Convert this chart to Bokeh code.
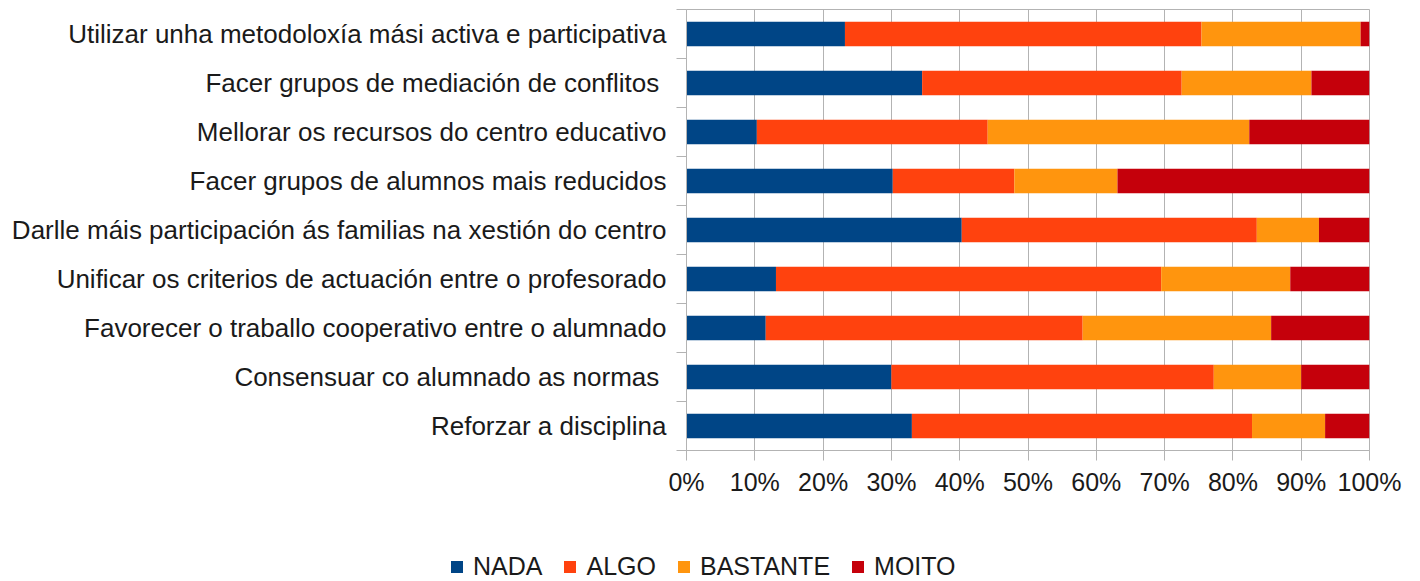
from bokeh.plotting import figure
from bokeh.layouts import column
from bokeh.models import Range1d, FixedTicker, ColumnDataSource, Legend, LegendItem
from bokeh.embed import file_html
from bokeh.resources import INLINE

categories = [
    "Utilizar unha metodoloxía mási activa e participativa",
    "Facer grupos de mediación de conflitos ",
    "Mellorar os recursos do centro educativo",
    "Facer grupos de alumnos mais reducidos",
    "Darlle máis participación ás familias na xestión do centro",
    "Unificar os criterios de actuación entre o profesorado",
    "Favorecer o traballo cooperativo entre o alumnado",
    "Consensuar co alumnado as normas ",
    "Reforzar a disciplina",
]
series_names = ["NADA", "ALGO", "BASTANTE", "MOITO"]
nada = [23.2, 34.5, 10.3, 30.2, 40.3, 13.1, 11.6, 30.0, 33.0]
algo = [52.2, 38.0, 33.8, 17.8, 43.2, 56.4, 46.4, 47.2, 49.8]
bastante = [23.3, 19.0, 38.3, 15.1, 9.1, 18.9, 27.6, 12.8, 10.7]
moito = [1.3, 8.5, 17.6, 36.9, 7.4, 11.6, 14.4, 10.0, 6.5]
x_ticks = [0, 10, 20, 30, 40, 50, 60, 70, 80, 90, 100]
x_tick_labels = ["0%", "10%", "20%", "30%", "40%", "50%", "60%", "70%", "80%", "90%", "100%"]

colors = ["#004586", "#ff420e", "#ff950e", "#c5000b"]
FONT = "Liberation Sans"
TEXT = "#1a1a1a"
GRID = "#b3b3b3"

n = len(categories)
ypos = [n - 0.5 - i for i in range(n)]

src = ColumnDataSource(dict(y=ypos, NADA=nada, ALGO=algo, BASTANTE=bastante, MOITO=moito))

p = figure(width=1420, height=500, output_backend="svg", toolbar_location=None,
           x_range=Range1d(0, 100), y_range=Range1d(0, n),
           min_border_left=686, min_border_right=51, min_border_top=9, min_border_bottom=50)
p.frame_align = False

rs = p.hbar_stack(series_names, y="y", height=0.5, color=colors, source=src, line_color=None)

p.outline_line_color = GRID
p.xgrid.ticker = FixedTicker(ticks=x_ticks)
p.xgrid.grid_line_color = GRID
p.ygrid.grid_line_color = None

xa = p.xaxis[0]
xa.ticker = FixedTicker(ticks=x_ticks)
xa.major_label_overrides = {t: l for t, l in zip(x_ticks, x_tick_labels)}
xa.axis_line_color = GRID
xa.major_tick_line_color = GRID
xa.major_tick_out = 10
xa.major_tick_in = 0
xa.minor_tick_line_color = None
xa.major_label_text_font = FONT
xa.major_label_text_font_size = "25px"
xa.major_label_text_color = TEXT
xa.major_label_standoff = 7

ya = p.yaxis[0]
ya.ticker = FixedTicker(ticks=ypos, minor_ticks=list(range(n + 1)))
ya.major_label_overrides = {y: c for y, c in zip(ypos, categories)}
ya.axis_line_color = GRID
ya.major_tick_line_color = None
ya.major_tick_out = 0
ya.major_tick_in = 0
ya.minor_tick_line_color = GRID
ya.minor_tick_out = 10
ya.minor_tick_in = 0
ya.major_label_text_font = FONT
ya.major_label_text_font_size = "26px"
ya.major_label_text_color = TEXT
ya.major_label_standoff = 10

# legend strip below the chart (swatch renderers carry no visible data)
lg = figure(width=1420, height=81, output_backend="svg", toolbar_location=None,
            x_range=Range1d(0, 1), y_range=Range1d(0, 1),
            x_axis_type=None, y_axis_type=None,
            min_border_left=0, min_border_right=0, min_border_top=0, min_border_bottom=0)
lg.frame_align = False
lg.outline_line_color = None
lg.grid.visible = False
nan = float("nan")
swatches = [lg.quad(left=[nan], right=[nan], top=[nan], bottom=[nan], fill_color=c, line_color=None)
            for c in colors]

legend = Legend(items=[LegendItem(label=name, renderers=[r]) for name, r in zip(series_names, swatches)],
                orientation="horizontal", location=(449, 0),
                label_text_font=FONT, label_text_font_size="25px", label_text_color=TEXT,
                glyph_width=15, glyph_height=15, label_standoff=9, spacing=20,
                border_line_color=None, background_fill_alpha=0, padding=0, margin=0)
lg.add_layout(legend, "center")

layout = column(p, lg, spacing=0)
open("out.html", "w").write(file_html(layout, INLINE))
